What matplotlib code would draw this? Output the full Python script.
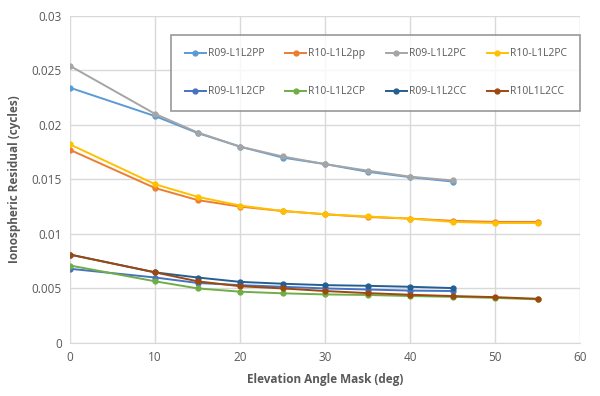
import matplotlib
matplotlib.use("Agg")
import matplotlib.pyplot as plt

# elevation mask (deg)
mask_09 = [0, 10, 15, 20, 25, 30, 35, 40, 45]
mask_10 = [0, 10, 15, 20, 25, 30, 35, 40, 45, 50, 55]

r09_pp = [0.0234, 0.0208, 0.01925, 0.0180, 0.0170, 0.0164, 0.0157, 0.0152, 0.0148]
r10_pp = [0.0177, 0.0142, 0.0131, 0.0125, 0.0121, 0.0118, 0.01155, 0.0114, 0.0112, 0.0111, 0.0111]
r09_pc = [0.0254, 0.0210, 0.0193, 0.0180, 0.0171, 0.0164, 0.0158, 0.01525, 0.0149]
r10_pc = [0.0182, 0.01455, 0.0134, 0.0126, 0.0121, 0.0118, 0.0116, 0.0114, 0.0111, 0.0110, 0.0110]
r09_cp = [0.0068, 0.0060, 0.0055, 0.0053, 0.00515, 0.0050, 0.0049, 0.0048, 0.00476]
r10_cp = [0.0071, 0.00565, 0.0050, 0.0047, 0.00455, 0.00445, 0.0044, 0.0043, 0.00423, 0.00413, 0.0040]
r09_cc = [0.0081, 0.00647, 0.0060, 0.0056, 0.00543, 0.0053, 0.00524, 0.00515, 0.00503]
r10_cc = [0.0081, 0.00647, 0.00565, 0.0052, 0.0050, 0.00476, 0.00457, 0.00442, 0.0043, 0.0042, 0.00405]

series = [
    ("R09-L1L2PP", mask_09, r09_pp, "#5B9BD5"),
    ("R10-L1L2pp", mask_10, r10_pp, "#ED7D31"),
    ("R09-L1L2PC", mask_09, r09_pc, "#A5A5A5"),
    ("R10-L1L2PC", mask_10, r10_pc, "#FFC000"),
    ("R09-L1L2CP", mask_09, r09_cp, "#4472C4"),
    ("R10-L1L2CP", mask_10, r10_cp, "#70AD47"),
    ("R09-L1L2CC", mask_09, r09_cc, "#255E91"),
    ("R10L1L2CC", mask_10, r10_cc, "#9E480E"),
]

plt.rcParams['font.family'] = ['Open Sans', 'DejaVu Sans']
txt = "#595959"

fig = plt.figure(figsize=(6, 3.96), dpi=100)
ax = fig.add_axes([0.117, 0.134, 0.85, 0.826])

for name, x, y, col in series:
    ax.plot(x, y, color=col, lw=1.4, marker="o", ms=3.5, label=name)

ax.set_xlim(0, 60)
ax.set_ylim(0, 0.03)
ax.set_xticks(range(0, 61, 10))
ax.set_yticks([0, 0.005, 0.01, 0.015, 0.02, 0.025, 0.03])
ax.set_yticklabels(["0", "0.005", "0.01", "0.015", "0.02", "0.025", "0.03"])
ax.grid(True, color="#D9D9D9", lw=1)
ax.set_axisbelow(True)
for s in ["top", "right", "left"]:
    ax.spines[s].set_visible(False)
ax.spines["bottom"].set_color("#D9D9D9")
ax.tick_params(length=0, colors=txt, labelsize=8.5, pad=6)

ax.set_xlabel("Elevation Angle Mask (deg)", color=txt, fontsize=8.5,
              fontweight="bold", labelpad=6)
ax.set_ylabel("Ionospheric Residual (cycles)", color=txt, fontsize=8.5,
              fontweight="bold", labelpad=8)

# legend is filled row by row, matplotlib fills by column
handles, labels = ax.get_legend_handles_labels()
order = [0, 4, 1, 5, 2, 6, 3, 7]
leg = ax.legend([handles[i] for i in order], [labels[i] for i in order],
                ncol=4, loc="upper left", mode="expand",
                bbox_to_anchor=(0.198, 0.716, 0.802, 0.226),
                fontsize=7.5, frameon=True, fancybox=False,
                handlelength=2.0, handletextpad=0.2, labelspacing=2.6,
                borderpad=1.3, borderaxespad=0, columnspacing=0.5)
leg.get_frame().set_edgecolor("#7F7F7F")
leg.get_frame().set_linewidth(1.2)
for t in leg.get_texts():
    t.set_color(txt)

fig.savefig("out.png", dpi=100)
